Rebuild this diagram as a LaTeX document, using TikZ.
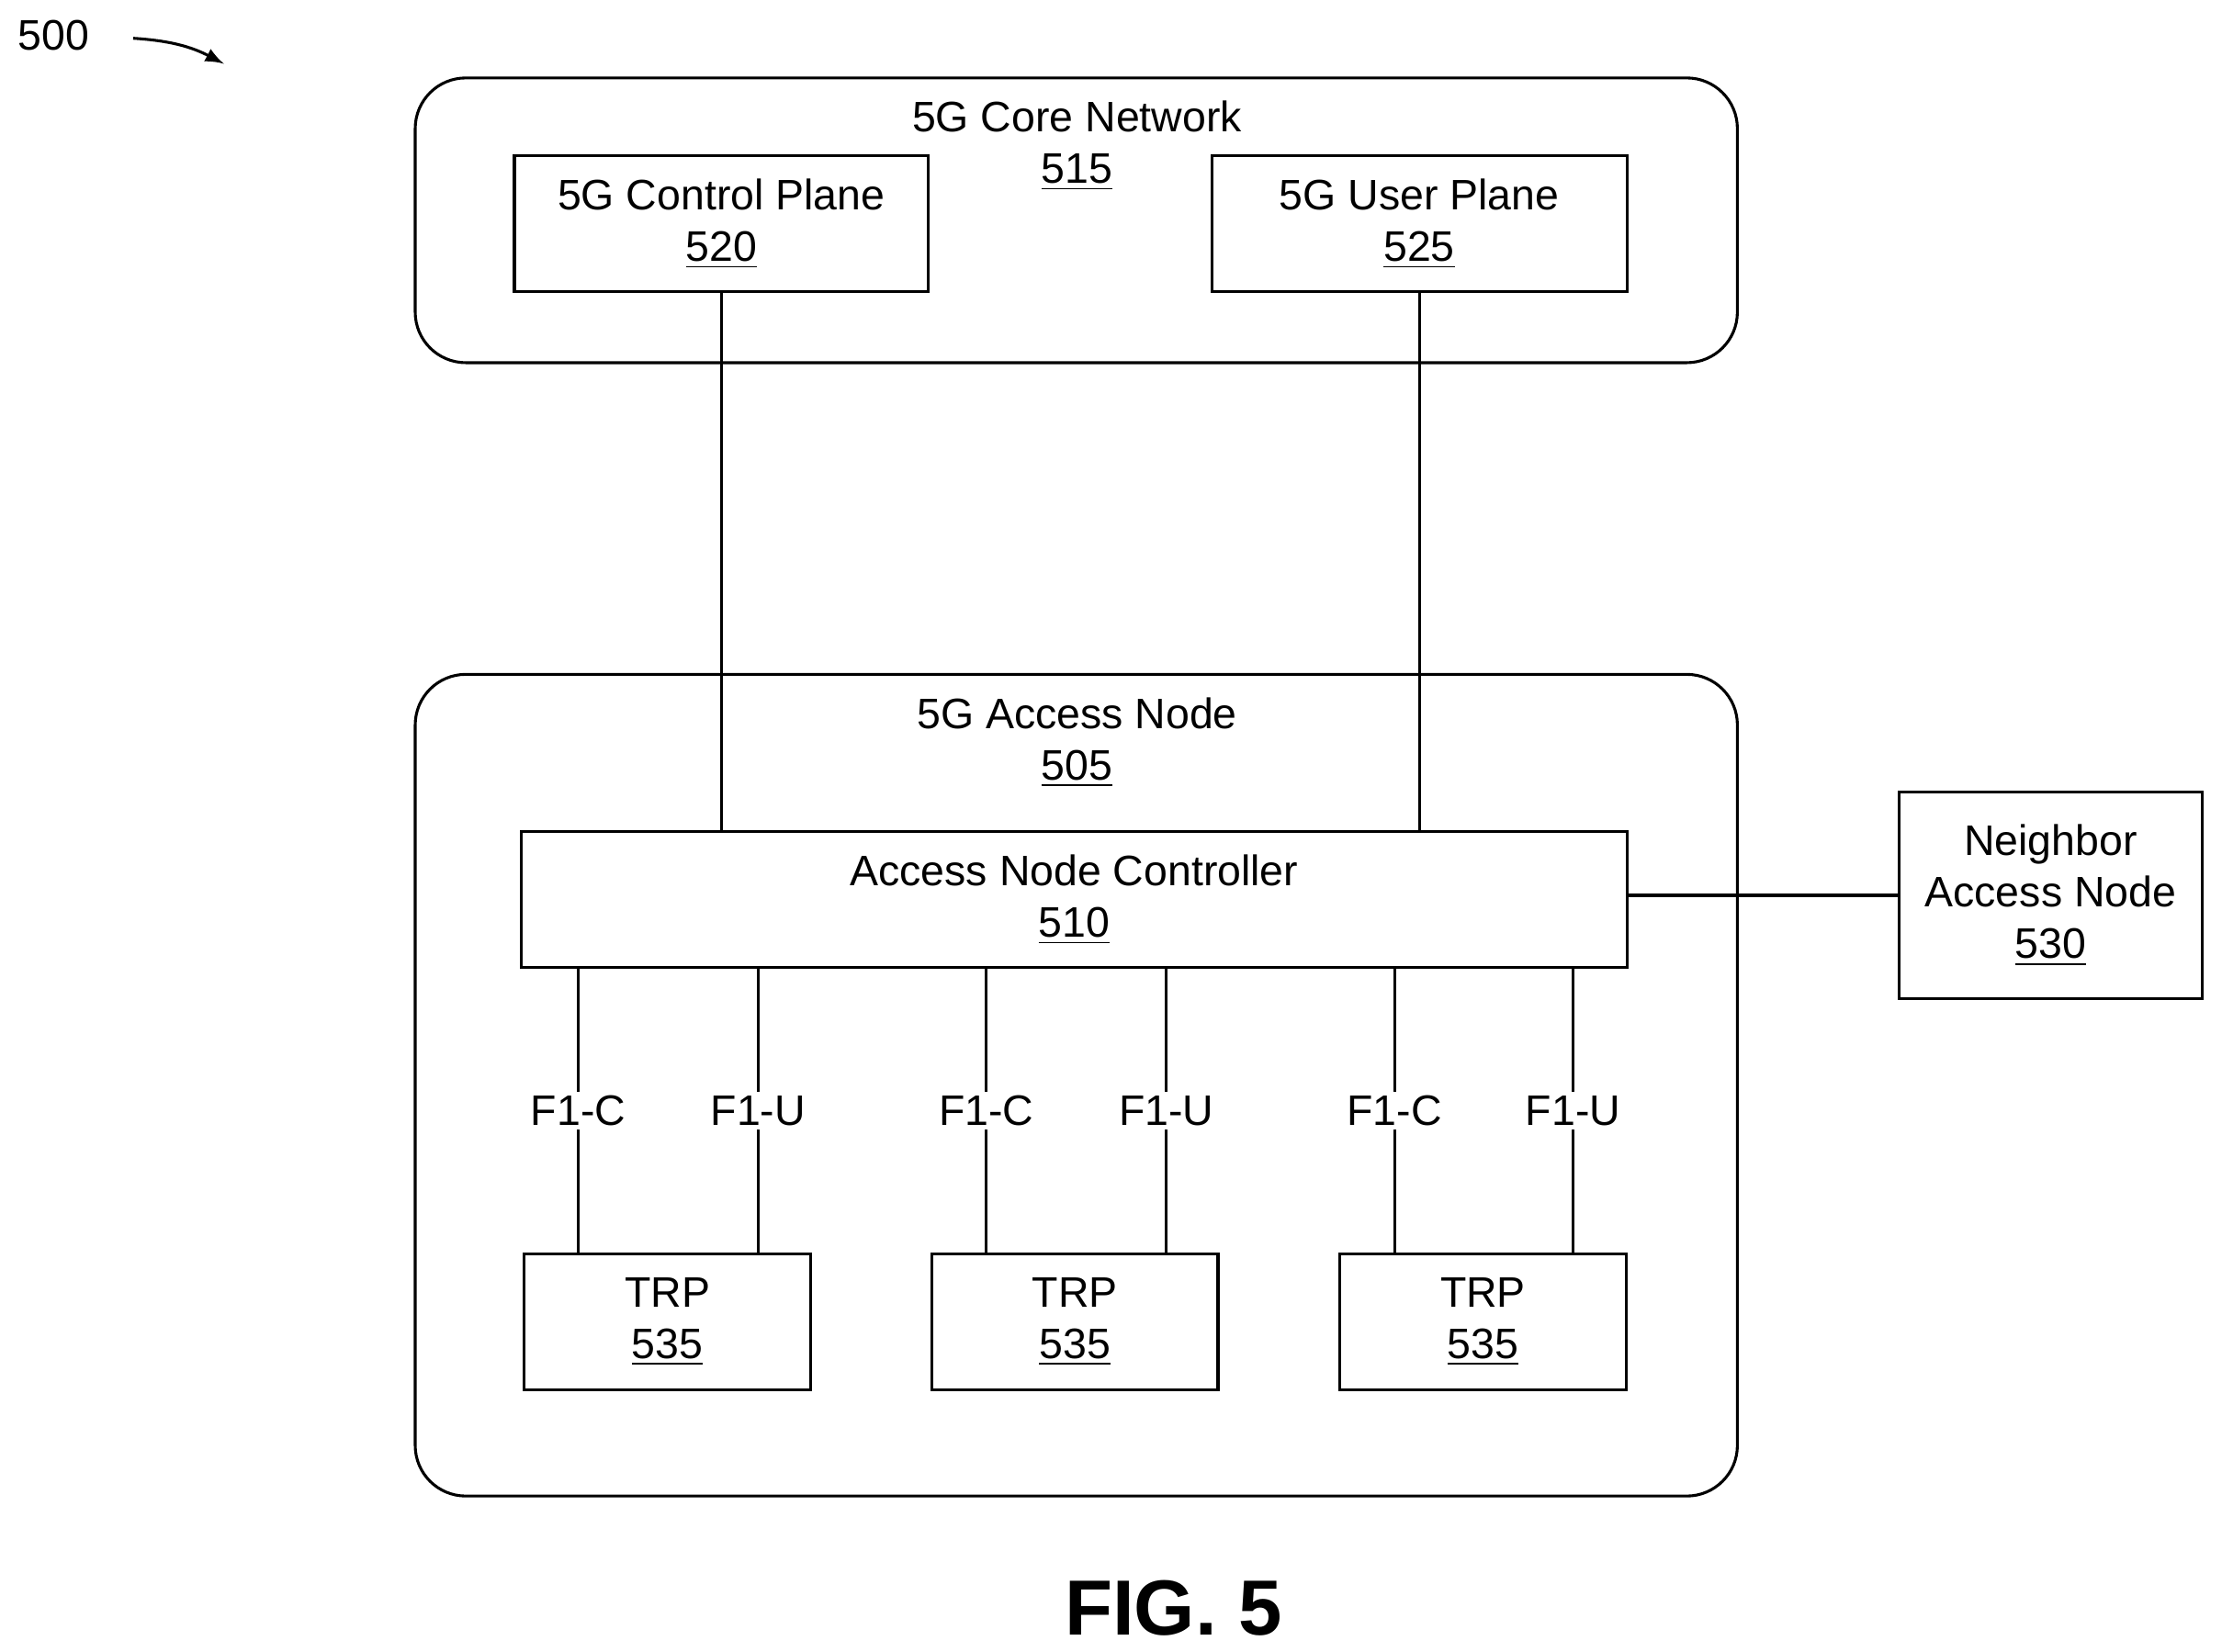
\documentclass[tikz,border=0pt]{standalone}
\usepackage{fontspec}
\setmainfont{Liberation Sans}
\usetikzlibrary{positioning,calc}
\tikzset{
  blk/.style={draw,line width=0.8pt,rectangle,align=center,inner sep=0pt,font=\fontsize{12}{14.5}\selectfont},
  grp/.style={draw,line width=0.8pt,rounded corners=0.5cm},
  lnk/.style={draw,line width=0.8pt},
  lbl/.style={fill=white,inner sep=1pt,font=\fontsize{12}{14}\selectfont},
}
\begin{document}
\begin{tikzpicture}[x=0.014cm,y=-0.014cm]
  \useasboundingbox (0,0) rectangle (1568,1166);
  % groups
  \draw[grp] (293,55) rectangle (1226,256);
  \draw[grp] (293,476) rectangle (1226,1056);
  \node[font=\fontsize{12}{14.5}\selectfont,align=center] (core) at (760,103) {5G Core Network\\\underline{515}};
  \node[font=\fontsize{12}{14.5}\selectfont,align=center] (acc) at (760,524) {5G Access Node\\\underline{505}};
  % boxes
  \node[blk,minimum width=292*0.014cm,minimum height=96*0.014cm] (cp) at (509,158) {5G Control Plane\\\underline{520}};
  \node[blk,minimum width=293*0.014cm,minimum height=96*0.014cm] (up) at (1001.5,158) {5G User Plane\\\underline{525}};
  \node[blk,minimum width=780*0.014cm,minimum height=96*0.014cm] (anc) at (758,635) {Access Node Controller\\\underline{510}};
  \node[blk,minimum width=214*0.014cm,minimum height=146*0.014cm] (nbr) at (1447,632) {Neighbor\\Access Node\\\underline{530}};
  \foreach \name/\x in {trpa/471, trpb/758.5, trpc/1046.5}
    \node[blk,minimum width=202*0.014cm,minimum height=96*0.014cm] (\name) at (\x,933) {TRP\\\underline{535}};
  % connectors
  \path[lnk] (cp.south) -- (anc.north -| cp.south);
  \path[lnk] (up.south) -- (anc.north -| up.south);
  \path[lnk] (anc.east |- nbr.west) -- (nbr.west);
  \foreach \name/\xc/\xu in {trpa/408/535, trpb/696/823, trpc/984/1110}
  {
    \path[lnk] (anc.south -| \xc,0) -- node[lbl] {F1-C} (\name.north -| \xc,0);
    \path[lnk] (anc.south -| \xu,0) -- node[lbl] {F1-U} (\name.north -| \xu,0);
  }
  % figure labels
  \node[font=\fontsize{12}{14}\selectfont] (fig) at (38,25) {500};
  \coordinate (figtip) at (158,45);
  \draw[line width=0.8pt,-latex] (fig.east) ++(22,2) to[bend left=12] (figtip);
  \node[font=\bfseries\fontsize{22}{26}\selectfont] (cap) at (828,1135) {FIG. 5};
\end{tikzpicture}
\end{document}
